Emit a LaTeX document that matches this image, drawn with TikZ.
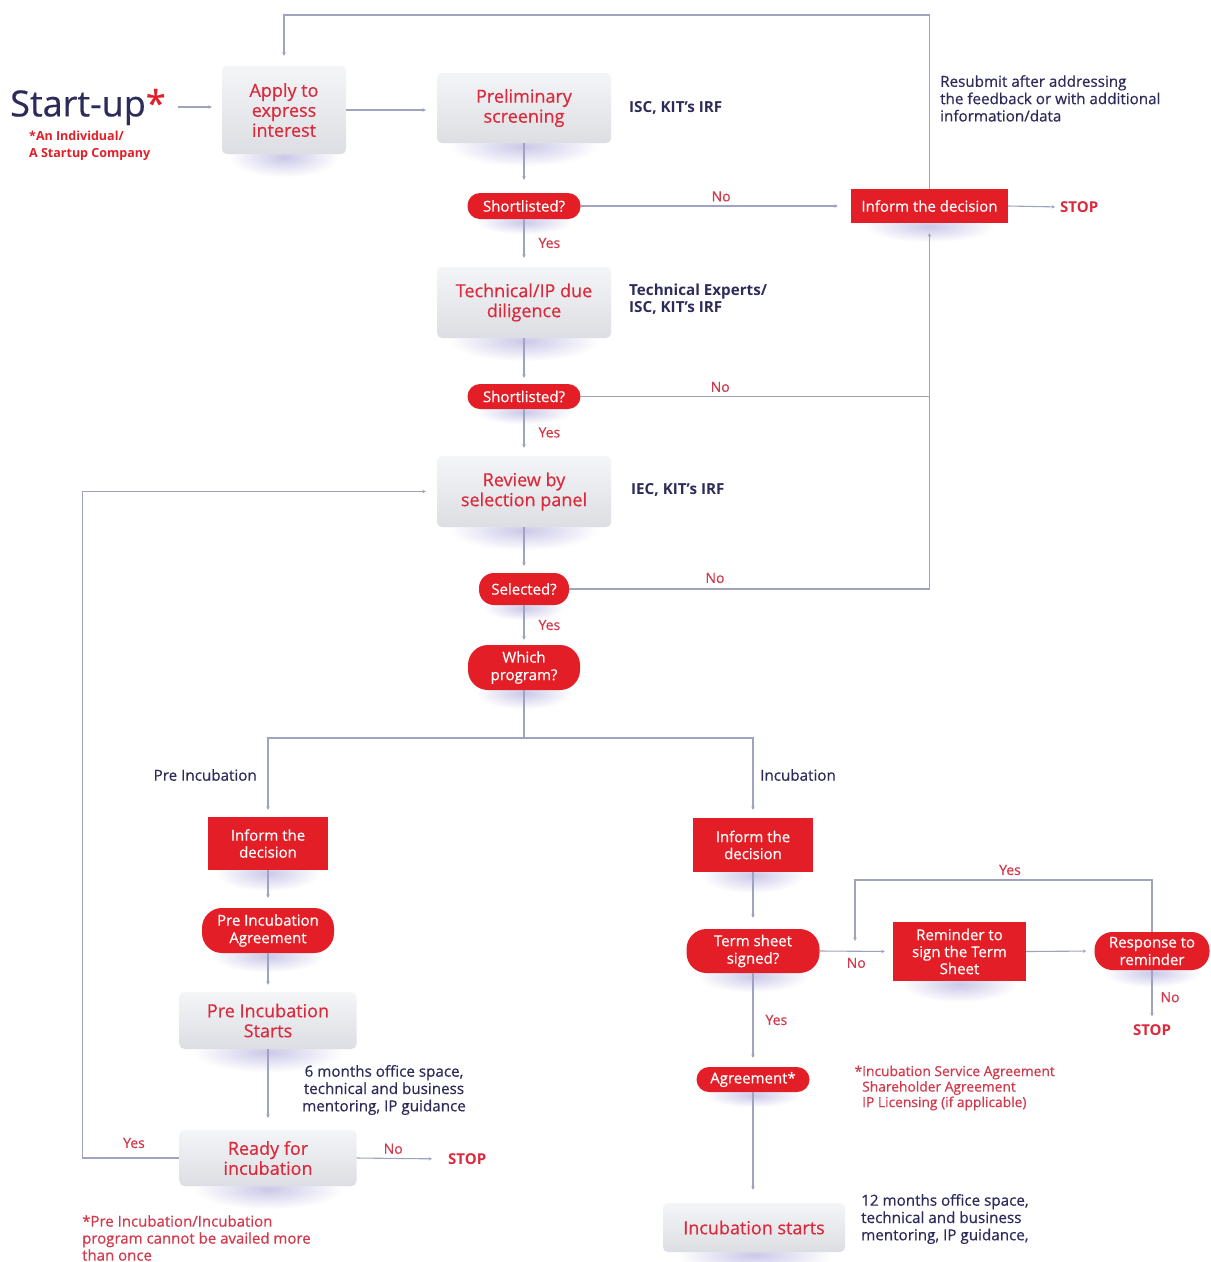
\documentclass[tikz,border=0pt]{standalone}
\usepackage{fontspec}
\setmainfont{Open Sans}[UprightFeatures={FakeBold=0.5}]
\usetikzlibrary{arrows.meta,backgrounds}
\definecolor{rf}{HTML}{E31E26}
\definecolor{rt}{HTML}{DA2A3C}
\definecolor{lab}{HTML}{D2394A}
\definecolor{navy}{HTML}{2C2B5A}
\definecolor{linec}{HTML}{A0A3BF}
\definecolor{gtop}{HTML}{F4F5F7}
\definecolor{gbot}{HTML}{DCDEE3}
\definecolor{shc}{HTML}{CBC8E8}
\newcommand\boxshadow[3]{\shade[inner color=shc, outer color=white] ([yshift=-3pt]#1.south) ellipse ({#2} and {#3});}
\tikzset{
  graybox/.style={rectangle, rounded corners=5pt, top color=gtop, bottom color=gbot, draw=none,
    text=rt, align=center, inner sep=0pt, font=\fontsize{18}{20}\selectfont},
  redbox/.style={rectangle, fill=rf, text=white, align=center, inner sep=0pt, font=\fontsize{15}{17}\selectfont},
  pill/.style={rectangle, fill=rf, text=white, align=center, inner sep=0pt, font=\fontsize{15}{17.5}\selectfont},
  conn/.style={draw=linec, line width=1.1pt},
  arr/.style={conn, -{Stealth[length=3.5pt,width=3.5pt]}, shorten >=10pt},
  lbl/.style={text=lab, font=\fontsize{14}{15}\selectfont, inner sep=0pt},
  stoptxt/.style={text=rt, font=\bfseries\fontsize{15}{16}\selectfont, inner sep=0pt},
  note/.style={text=navy, font=\fontsize{15.2}{17.3}\selectfont, inner sep=0pt},
  bnote/.style={text=navy, font=\bfseries\fontsize{15.2}{17.5}\selectfont, inner sep=0pt, align=left},
}
\begin{document}
\begin{tikzpicture}[x=1pt,y=-1pt]
\useasboundingbox (0,0) rectangle (1211,1262);

% Start-up
\node[anchor=west, inner sep=0pt, text=navy, font=\fontsize{36}{38}\selectfont] (startup) at (10,107) {Start-up\textcolor{rf}{*}};
\node[anchor=north west, inner sep=0pt, text=rf, align=left, font=\bfseries\fontsize{12.5}{17}\selectfont] (indiv) at (29,131) {*An Individual/\\A Startup Company};

% gray boxes
\node[graybox, minimum width=124, minimum height=88] (apply) at (284,110) {Apply to\\express\\interest};
\node[graybox, minimum width=174, minimum height=70] (prelim) at (524,108) {Preliminary\\screening};
\node[graybox, minimum width=174, minimum height=71] (tech) at (524,302.5) {Technical/IP due\\diligence};
\node[graybox, minimum width=174, minimum height=71] (review) at (524,491.5) {Review by\\selection panel};
\node[graybox, minimum width=177, minimum height=57] (prestart) at (268,1020.5) {Pre Incubation\\Starts};
\node[graybox, minimum width=177, minimum height=56] (ready) at (268,1158) {Ready for\\incubation};
\node[graybox, minimum width=182, minimum height=49] (incstart) at (754,1227.5) {Incubation starts};

% red boxes
\node[redbox, minimum width=157, minimum height=34] (inform1) at (929.5,206) {Inform the decision};
\node[redbox, minimum width=120, minimum height=53] (inform2) at (268,843.5) {Inform the\\decision};
\node[redbox, minimum width=120, minimum height=54] (inform3) at (753,845) {Inform the\\decision};
\node[redbox, minimum width=133, minimum height=59] (reminder) at (959.5,951.5) {Reminder to\\sign the Term\\Sheet};

% pills
\node[pill, rounded corners=12.5pt, minimum width=113, minimum height=26] (short1) at (524,206) {Shortlisted?};
\node[pill, rounded corners=12.5pt, minimum width=113, minimum height=25] (short2) at (524,396.5) {Shortlisted?};
\node[pill, rounded corners=15pt, minimum width=90, minimum height=32] (selected) at (524,589) {Selected?};
\node[pill, rounded corners=20pt, minimum width=112, minimum height=45] (which) at (524,667.5) {Which\\program?};
\node[pill, rounded corners=20pt, minimum width=132, minimum height=45] (preagr) at (268,930.5) {Pre Incubation\\Agreement};
\node[pill, rounded corners=20pt, minimum width=133, minimum height=44] (term) at (753,951) {Term sheet\\signed?};
\node[pill, rounded corners=18pt, minimum width=115, minimum height=38] (response) at (1152,951) {Response to\\reminder};
\node[pill, rounded corners=12.5pt, minimum width=113, minimum height=25] (agreement) at (753,1079.5) {Agreement*};

% STOP nodes
\node[stoptxt, anchor=west] (stop1) at (1060,207) {STOP};
\node[stoptxt, anchor=west] (stop2) at (448,1159) {STOP};
\node[stoptxt] (stop3) at (1152,1030) {STOP};

% side notes
\node[note, anchor=north west, align=left] (resub) at (940,75) {Resubmit after addressing\\the feedback or with additional\\information/data};
\node[bnote, anchor=west] (isc1) at (629,108) {ISC, KIT's IRF};
\node[bnote, anchor=west] (isc2) at (629,299) {Technical Experts/\\ISC, KIT's IRF};
\node[bnote, anchor=west] (iec) at (631,490) {IEC, KIT's IRF};
\node[note, align=center] (six) at (384,1090) {6 months office space,\\technical and business\\mentoring, IP guidance};
\node[note, anchor=west, align=left] (twelve) at (861,1219) {12 months office space,\\technical and business\\mentoring, IP guidance,};
\node[anchor=west, inner sep=0pt, text=lab, align=left, font=\fontsize{13.8}{15.5}\selectfont] (agrnote) at (862,1088) {\llap{*}Incubation Service Agreement\\Shareholder Agreement\\IP Licensing (if applicable)};
\node[anchor=west, inner sep=0pt, text=lab, align=left, font=\fontsize{15}{17}\selectfont] (foot) at (82,1238) {*Pre Incubation/Incubation\\program cannot be availed more\\than once};
\node[note, anchor=east] (prelbl) at (257,775) {Pre Incubation};
\node[note, anchor=west] (inclbl) at (760,775) {Incubation};

% shadows
\begin{scope}[on background layer]
\fill[white] (0,0) rectangle (1211,1262);
\boxshadow{apply}{55}{20}
\boxshadow{prelim}{75}{20}
\boxshadow{tech}{75}{20}
\boxshadow{review}{75}{20}
\boxshadow{prestart}{75}{20}
\boxshadow{ready}{75}{20}
\boxshadow{incstart}{78}{18}
\boxshadow{inform1}{65}{16}
\boxshadow{inform2}{52}{18}
\boxshadow{inform3}{52}{18}
\boxshadow{reminder}{58}{18}
\boxshadow{short1}{48}{12}
\boxshadow{short2}{48}{12}
\boxshadow{selected}{40}{12}
\boxshadow{which}{48}{16}
\boxshadow{preagr}{56}{16}
\boxshadow{term}{56}{16}
\boxshadow{response}{48}{14}
\boxshadow{agreement}{48}{12}
\end{scope}

% connectors
\draw[arr, shorten <=12pt] (startup.east) -- (startup.east -| apply.west);
\draw[arr, shorten >=11pt] (apply.east) -- (apply.east -| prelim.west);
\draw[arr, shorten >=13pt] (prelim.south) -- (short1.north);
\draw[arr, shorten >=13pt] (short1.east) -- (inform1.west) node[lbl, pos=0.52, above=4pt] {No};
\draw[arr, shorten >=5pt] (inform1.east) -- (stop1.west);
\draw[arr] (inform1.north) |- (apply.north |- 0,15) -- (apply.north);
\draw[arr, shorten >=9pt] (short1.south) -- (tech.north) node[lbl, pos=0.5, right=14pt] {Yes};
\draw[arr, shorten >=6pt] (tech.south) -- (short2.north);
\draw[conn] (short2.east) -- (short2.east -| inform1.south) node[lbl, pos=0.4, above=4pt] {No};
\draw[arr] (selected.east) -- (selected.east -| inform1.south) -- (inform1.south);
\node[lbl] at (715,578) {No};
\draw[arr, shorten >=8pt] (short2.south) -- (review.north) node[lbl, pos=0.5, right=14pt] {Yes};
\draw[arr, shorten >=7pt] (review.south) -- (selected.north);
\draw[arr, shorten >=5pt] (selected.south) -- (which.north) node[lbl, pos=0.5, right=14pt] {Yes};
\coordinate (split) at (524,738);
\draw[conn] (which.south) -- (split);
\draw[arr, shorten >=7pt] (split) -| (inform2.north);
\draw[arr, shorten >=8pt] (split) -| (inform3.north);
\draw[arr] (inform2.south) -- (preagr.north);
\draw[arr, shorten >=7pt] (preagr.south) -- (prestart.north);
\draw[arr, shorten >=12pt] (prestart.south) -- (ready.north);
\draw[arr, shorten >=11pt] (ready.west) -- ++(-97,0) |- (review.west);
\node[lbl] at (134,1143) {Yes};
\draw[arr, shorten >=16pt] (ready.east) -- (stop2.west) node[lbl, pos=0.4, above=4pt] {No};
\draw[arr, shorten >=11pt] (inform3.south) -- (term.north);
\draw[arr, shorten >=8pt] (term.east) -- (reminder.west) node[lbl, pos=0.5, below=6pt] {No};
\draw[arr, shorten >=8pt] (reminder.east) -- (response.west);
\coordinate (loopend) at (855,941);
\draw[arr, shorten >=0pt] (response.north) |- (855,880) -- (loopend);
\node[lbl] at (1010,870) {Yes};
\draw[arr, shorten >=8pt] (response.south) -- (stop3.north) node[lbl, pos=0.5, right=8pt] {No};
\draw[arr, shorten >=9pt] (term.south) -- (agreement.north) node[lbl, pos=0.5, right=12pt] {Yes};
\draw[arr, shorten >=13pt] (agreement.south) -- (incstart.north -| agreement.south);
\end{tikzpicture}
\end{document}
